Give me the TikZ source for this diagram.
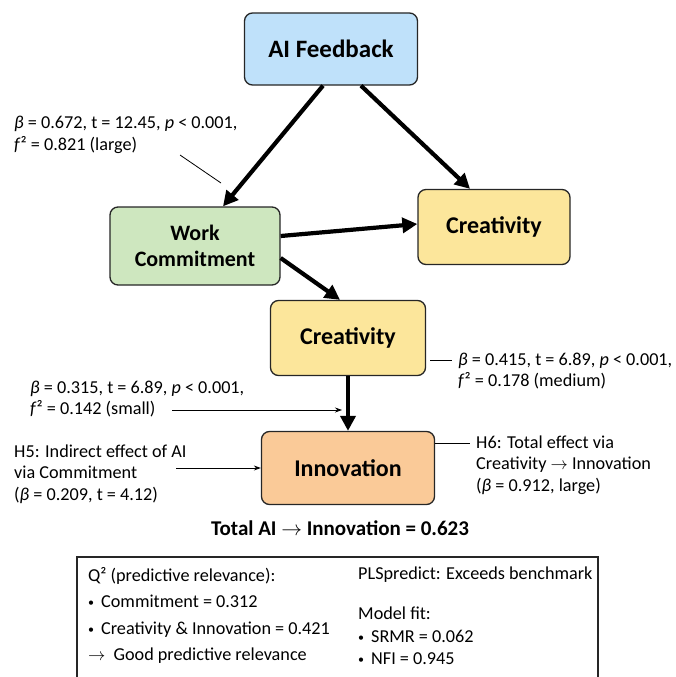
\documentclass[tikz,border=0pt]{standalone}
\usepackage{fontspec}
\setmainfont{Carlito}
\usepackage{amsmath}
\usetikzlibrary{arrows.meta,positioning}
\definecolor{azulIA}{RGB}{191,225,250}
\definecolor{verdeWC}{RGB}{206,231,191}
\definecolor{amareloCR}{RGB}{252,230,155}
\definecolor{laranjaIN}{RGB}{250,202,152}
\newcommand{\marca}{\raisebox{1pt}{\fontsize{12}{12}\selectfont•}\hspace{7pt}}
\begin{document}
\begin{tikzpicture}[x=1pt,y=-1pt,
  caixa/.style={draw=black!85, line width=1.3pt, rounded corners=8pt, align=center, font=\fontsize{24}{27}\selectfont\bfseries},
  rotulo/.style={align=left, inner sep=0pt, font=\fontsize{18.2}{21.5}\selectfont},
  seta/.style={line width=4.2pt, -{Triangle[length=15pt,width=15pt]}},
  fina/.style={line width=0.8pt},
  setafina/.style={line width=0.8pt, -{Stealth[length=7pt,width=5pt]}}]

\useasboundingbox (0,0) rectangle (676,677);

% Caixas do modelo
\node[caixa, fill=azulIA, minimum width=173pt, minimum height=72pt, font=\fontsize{25}{28}\selectfont\bfseries] (ai) at (331,49) {AI Feedback};
\node[caixa, fill=verdeWC, minimum width=170pt, minimum height=78pt, font=\fontsize{22}{26}\selectfont\bfseries] (wc) at (195,246) {Work\\Commitment};
\node[caixa, fill=amareloCR, minimum width=152pt, minimum height=75pt] (cr1) at (494,227) {Creativity};
\node[caixa, fill=amareloCR, minimum width=155pt, minimum height=75pt] (cr2) at (348,338) {Creativity};
\node[caixa, fill=laranjaIN, minimum width=173pt, minimum height=73pt] (in) at (348,468) {Innovation};

% Caminhos estruturais
\draw[seta] ([xshift=-8pt]ai.south) -- ([xshift=28pt]wc.north);
\draw[seta] ([xshift=30pt]ai.south) -- ([xshift=-24pt]cr1.north);
\draw[seta] ([yshift=10pt]wc.east) -- ([yshift=3pt]cr1.west);
\draw[seta] ([yshift=-12pt]wc.east) -- ([xshift=-8pt]cr2.north);
\draw[seta] (cr2.south) -- (in.north);

% Rotulo AI -> Commitment
\node[rotulo, anchor=west] (r1) at (14,135) {\textit{β} = 0.672, t = 12.45, \textit{p} < 0.001,\\\textit{f}² = 0.821 (large)};
\coordinate (r1a) at (180,155);
\coordinate (r1b) at (221,183);
\draw[fina] (r1a) -- (r1b);

% Rotulo Creativity -> Innovation
\node[rotulo, anchor=west] (r2) at (458,371) {\textit{β} = 0.415, t = 6.89, \textit{p} < 0.001,\\\textit{f}² = 0.178 (medium)};
\coordinate (r2a) at (452,360);
\draw[fina] (cr2.east |- r2a) ++(4,0) -- (r2a);

% Rotulo Commitment -> Innovation
\node[rotulo, anchor=west] (r3) at (30,399) {\textit{β} = 0.315, t = 6.89, \textit{p} < 0.001,\\\textit{f}² = 0.142 (small)};
\coordinate (r3a) at (172,410);
\coordinate (r3b) at (342,410);
\draw[setafina] (r3a) -- (r3b);

% H5
\node[rotulo, anchor=west] (h5) at (14,474) {H5: Indirect effect of AI\\via Commitment\\(\textit{β} = 0.209, t = 4.12)};
\coordinate (h5a) at (176,468);
\draw[setafina] (h5a) -- (in.west |- h5a);

% H6
\node[rotulo, anchor=west] (h6) at (476,465) {H6: Total effect via\\Creativity $\rightarrow$ Innovation\\(\textit{β} = 0.912, large)};
\coordinate (h6a) at (470,443);
\draw[fina] (in.east |- h6a) -- (h6a);

% Efeito total
\node[font=\fontsize{21}{25}\selectfont\bfseries] (tot) at (340,528) {Total AI $\rightarrow$ Innovation = 0.623};

% Quadro inferior
\draw[line width=1.3pt, draw=black!85] (77,557) rectangle (598,700);
\node[rotulo, anchor=north west, font=\fontsize{18.2}{26.5}\selectfont] (q2) at (88,567) {Q² (predictive relevance):\\\marca Commitment = 0.312\\\marca Creativity \& Innovation = 0.421\\$\rightarrow$\hspace{4pt} Good predictive relevance};
\node[rotulo, anchor=north west] (pls) at (358,567) {PLSpredict: Exceeds benchmark};
\node[rotulo, anchor=north west, font=\fontsize{18.2}{22.5}\selectfont] (fit) at (358,607) {Model fit:\\\marca SRMR = 0.062\\\marca NFI = 0.945};

\end{tikzpicture}
\end{document}
